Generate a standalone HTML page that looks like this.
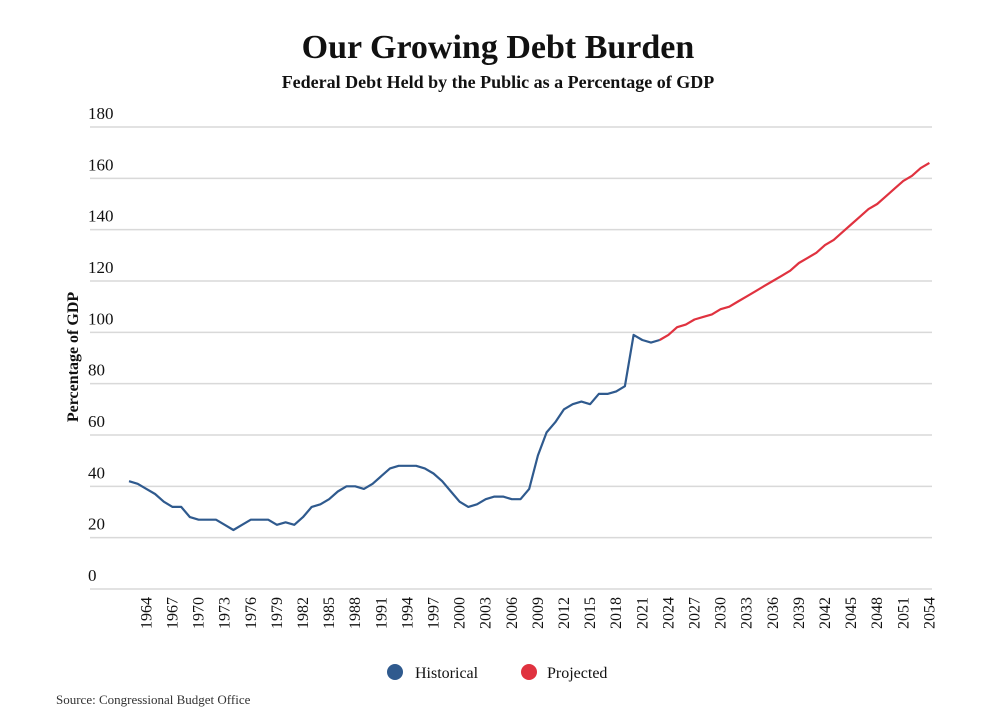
<!DOCTYPE html>
<html><head><meta charset="utf-8"><style>
body{margin:0;background:#fff;}
svg{display:block;}
</style></head><body>
<svg id="chart" width="996" height="711" xmlns="http://www.w3.org/2000/svg">
<text x="498" y="58" text-anchor="middle" font-family="Liberation Serif, serif" font-weight="bold" font-size="34" fill="#111">Our Growing Debt Burden</text>
<text x="498" y="88" text-anchor="middle" font-family="Liberation Serif, serif" font-weight="bold" font-size="18" fill="#111">Federal Debt Held by the Public as a Percentage of GDP</text>
<text transform="translate(78,357) rotate(-90)" text-anchor="middle" font-family="Liberation Serif, serif" font-weight="bold" font-size="16" fill="#111">Percentage of GDP</text>
<g id="grid"></g><g id="ylabels"></g><g id="xlabels"></g><g id="lines"></g>
<circle cx="395" cy="672" r="8" fill="#2f5a8e"/>
<text x="415" y="678" font-family="Liberation Serif, serif" font-size="16" fill="#111">Historical</text>
<circle cx="529" cy="672" r="8" fill="#e0323f"/>
<text x="547" y="678" font-family="Liberation Serif, serif" font-size="16" fill="#111">Projected</text>
<text x="56" y="704" font-family="Liberation Serif, serif" font-size="13" fill="#333">Source: Congressional Budget Office</text>
</svg>
<script>
const yTicks=[0,20,40,60,80,100,120,140,160,180];
const xTickYears=[1964,1967,1970,1973,1976,1979,1982,1985,1988,1991,1994,1997,2000,2003,2006,2009,2012,2015,2018,2021,2024,2027,2030,2033,2036,2039,2042,2045,2048,2051,2054];
const histYears=[1962,1963,1964,1965,1966,1967,1968,1969,1970,1971,1972,1973,1974,1975,1976,1977,1978,1979,1980,1981,1982,1983,1984,1985,1986,1987,1988,1989,1990,1991,1992,1993,1994,1995,1996,1997,1998,1999,2000,2001,2002,2003,2004,2005,2006,2007,2008,2009,2010,2011,2012,2013,2014,2015,2016,2017,2018,2019,2020,2021,2022,2023];
const histValues=[42,41,39,37,34,32,32,28,27,27,27,25,23,25,27,27,27,25,26,25,28,32,33,35,38,40,40,39,41,44,47,48,48,48,47,45,42,38,34,32,33,35,36,36,35,35,39,52,61,65,70,72,73,72,76,76,77,79,99,97,96,97];
const projYears=[2023,2024,2025,2026,2027,2028,2029,2030,2031,2032,2033,2034,2035,2036,2037,2038,2039,2040,2041,2042,2043,2044,2045,2046,2047,2048,2049,2050,2051,2052,2053,2054];
const projValues=[97,99,102,103,105,106,107,109,110,112,114,116,118,120,122,124,127,129,131,134,136,139,142,145,148,150,153,156,159,161,164,166];
const NS="http://www.w3.org/2000/svg";
function xs(yr){return 129+(yr-1962)*8.7;}
function ys(v){return 589-v*(462/180);}
const grid=document.getElementById('grid'),yl=document.getElementById('ylabels'),xl=document.getElementById('xlabels'),ln=document.getElementById('lines');
yTicks.forEach(t=>{
 const l=document.createElementNS(NS,'line');
 l.setAttribute('x1',90);l.setAttribute('x2',932);l.setAttribute('y1',ys(t));l.setAttribute('y2',ys(t));
 l.setAttribute('stroke','#d9d9d9');l.setAttribute('stroke-width','1.5');
 
 
 grid.appendChild(l);
 const tx=document.createElementNS(NS,'text');
 tx.setAttribute('x',88);tx.setAttribute('y',ys(t)-8);tx.setAttribute('font-family','Liberation Serif, serif');tx.setAttribute('font-size','17');tx.setAttribute('fill','#111');
 tx.textContent=t;
 
 
 yl.appendChild(tx);
});
xTickYears.forEach(yr=>{
 const tx=document.createElementNS(NS,'text');
 tx.setAttribute('transform','translate('+(xs(yr)+5)+',597) rotate(-90)');
 tx.setAttribute('text-anchor','end');tx.setAttribute('font-family','Liberation Serif, serif');tx.setAttribute('font-size','16');tx.setAttribute('fill','#111');
 tx.textContent=yr;
 
 
 xl.appendChild(tx);
});
function path(years,vals,color,name){
 const p=document.createElementNS(NS,'path');
 p.setAttribute('d',years.map((y,i)=>(i?'L':'M')+xs(y).toFixed(1)+','+ys(vals[i]).toFixed(1)).join(''));
 p.setAttribute('fill','none');p.setAttribute('stroke',color);p.setAttribute('stroke-width','2.2');p.setAttribute('stroke-linejoin','round');
 
 
 ln.appendChild(p);
}
path(histYears,histValues,'#2f5a8e','historical-line');
path(projYears,projValues,'#e0323f','projected-line');
</script>
</body></html>
